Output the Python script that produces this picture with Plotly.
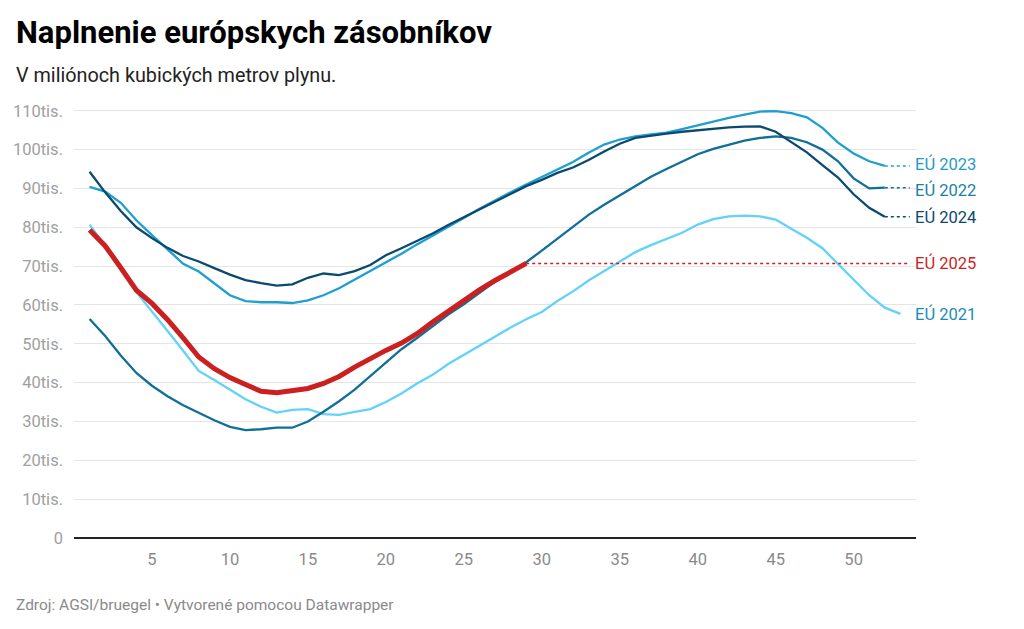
import plotly.graph_objects as go

# týždne v roku
weeks = list(range(1, 54))

# naplnenie zásobníkov (tis. mil. m3) podľa rokov
eu_2021 = [80.7, 75.3, 69.8, 63.3, 58.4, 53.3, 48.2, 43.0, 40.7, 38.1,
           35.7, 33.8, 32.3, 33.0, 33.2, 31.9, 31.7, 32.5, 33.2, 35.0,
           37.2, 39.8, 42.0, 44.8, 47.2, 49.6, 51.8, 54.2, 56.3, 58.2,
           61.0, 63.5, 66.3, 68.8, 71.3, 73.6, 75.4, 77.0, 78.6, 80.7,
           82.1, 82.8, 83.0, 82.8, 82.0, 79.6, 77.3, 74.6, 70.5, 66.6,
           62.5, 59.3, 57.7]
eu_2022 = [56.4, 52.0, 47.0, 42.5, 39.2, 36.5, 34.2, 32.2, 30.3, 28.6,
           27.8, 28.0, 28.4, 28.4, 30.0, 32.5, 35.2, 38.2, 41.6, 45.0,
           48.6, 51.5, 54.5, 57.5, 60.2, 63.2, 66.0, 68.5, 71.0, 74.0,
           77.0, 80.2, 83.2, 85.8, 88.2, 90.6, 93.0, 95.0, 97.0, 98.8,
           100.2, 101.3, 102.3, 103.0, 103.4, 103.0, 101.9, 100.0, 97.0, 92.6,
           90.0, 90.2]
eu_2023 = [90.4, 89.2, 86.3, 81.8, 78.0, 74.2, 70.6, 68.6, 65.5, 62.5,
           61.0, 60.7, 60.7, 60.5, 61.2, 62.5, 64.3, 66.5, 68.8, 70.9,
           73.2, 75.6, 77.8, 80.0, 82.4, 84.8, 87.0, 89.0, 91.0, 93.0,
           95.0, 96.8, 99.2, 101.3, 102.6, 103.4, 103.9, 104.4, 105.3, 106.3,
           107.3, 108.2, 109.0, 109.8, 109.9, 109.4, 108.3, 105.6, 101.8, 99.0,
           97.0, 95.8]
eu_2024 = [94.3, 89.0, 84.2, 80.0, 77.2, 74.7, 72.6, 71.2, 69.5, 67.8,
           66.4, 65.6, 65.0, 65.3, 67.0, 68.1, 67.7, 68.7, 70.3, 72.8,
           74.6, 76.4, 78.4, 80.6, 82.6, 84.8, 86.8, 88.8, 90.6, 92.2,
           94.0, 95.4, 97.3, 99.5, 101.5, 103.0, 103.6, 104.1, 104.6, 105.0,
           105.4, 105.7, 105.9, 106.0, 104.6, 102.0, 99.3, 96.0, 92.8, 88.5,
           85.0, 82.7]
eu_2025 = [79.3, 75.2, 69.6, 63.8, 60.4, 56.2, 51.5, 46.6, 43.6, 41.3,
           39.5, 37.8, 37.4, 37.8, 38.5, 39.8, 41.6, 44.0, 46.2, 48.3,
           50.2, 52.6, 55.6, 58.4, 61.2, 63.9, 66.3, 68.6, 70.7]

y_ticks = [0, 10, 20, 30, 40, 50, 60, 70, 80, 90, 100, 110]
y_tick_text = ["0", "10tis.", "20tis.", "30tis.", "40tis.", "50tis.",
               "60tis.", "70tis.", "80tis.", "90tis.", "100tis.", "110tis."]
x_ticks = [5, 10, 15, 20, 25, 30, 35, 40, 45, 50]

FONT = "Roboto"
LABEL_X = 53.6

# (názov, dáta, farba čiary, farba popisku, hrúbka, posun popisku v px)
series = [
    ("EÚ 2021", eu_2021, "#62d2fa", "#1a8dbb", 2.3, 0),
    ("EÚ 2022", eu_2022, "#0f6f98", "#1a7fa9", 2.3, -2),
    ("EÚ 2023", eu_2023, "#1f9fd0", "#1f9bc9", 2.3, 2),
    ("EÚ 2024", eu_2024, "#0b4a6e", "#0d4a6e", 2.3, 0),
    ("EÚ 2025", eu_2025, "#cc1f1f", "#cc1f1f", 5, 0),
]

fig = go.Figure()

for name, vals, color, label_color, width, shift in series:
    x = weeks[:len(vals)]
    fig.add_trace(go.Scatter(x=x, y=vals, mode="lines", name=name,
                             line=dict(color=color, width=width),
                             hoverinfo="x+y+name"))
    # bodkovaná spojnica k popisku (len ak séria končí skôr)
    if x[-1] < 53:
        fig.add_trace(go.Scatter(x=[x[-1], LABEL_X], y=[vals[-1], vals[-1]],
                                 mode="lines", hoverinfo="skip",
                                 line=dict(color=color, width=1.5, dash="dot")))
    fig.add_annotation(x=LABEL_X, y=vals[-1], text=name, showarrow=False,
                       xanchor="left", yanchor="middle", xshift=3, yshift=shift,
                       font=dict(family=FONT, size=16.5, color=label_color))

# stránka má okraj 8 px, preto je graf o kúsok menší
fig.add_annotation(xref="paper", yref="paper", x=0, y=1.161, xshift=-60,
                   text="<b>Naplnenie európskych zásobníkov</b>", showarrow=False,
                   xanchor="left", yanchor="middle",
                   font=dict(family=FONT, size=31, color="#000000"))
fig.add_annotation(xref="paper", yref="paper", x=0, y=1.064, xshift=-60,
                   text="V miliónoch kubických metrov plynu.", showarrow=False,
                   xanchor="left", yanchor="middle",
                   font=dict(family=FONT, size=19.8, color="#222222"))
fig.add_annotation(xref="paper", yref="paper", x=0, y=-0.154, xshift=-60,
                   text="Zdroj: AGSI/bruegel • Vytvorené pomocou Datawrapper",
                   showarrow=False, xanchor="left", yanchor="middle",
                   font=dict(family=FONT, size=15.5, color="#8a8a8a"))

fig.update_layout(
    width=1016, height=621,
    margin=dict(l=66, r=108, t=95, b=91),
    paper_bgcolor="white", plot_bgcolor="white",
    showlegend=False,
    font=dict(family=FONT),
)
fig.update_xaxes(range=[0, 54], tickvals=x_ticks, showgrid=False,
                 zeroline=False, showline=False, ticks="",
                 ticklabelstandoff=9, automargin=False,
                 tickfont=dict(family=FONT, size=16.5, color="#8a8a8a"))
fig.update_yaxes(range=[0, 112], tickvals=y_ticks, ticktext=y_tick_text,
                 showgrid=True, gridcolor="#e5e5e5", gridwidth=1,
                 zeroline=True, zerolinecolor="#222222", zerolinewidth=2,
                 showline=False, ticks="", ticklabelstandoff=10, automargin=False,
                 tickfont=dict(family=FONT, size=16.5, color="#a0a0a0"))

fig.write_html("out.html")
